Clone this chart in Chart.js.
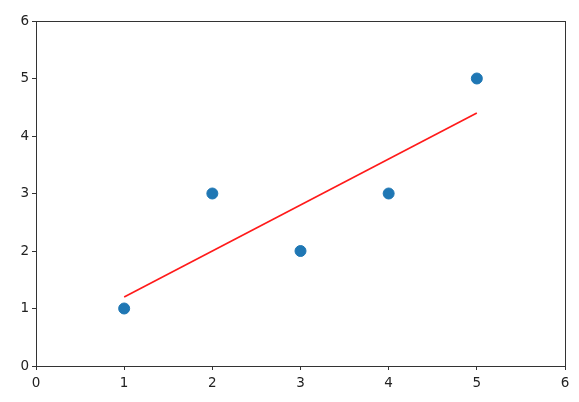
<!DOCTYPE html>
<html>
<head>
<meta charset="utf-8">
<script src="https://cdn.jsdelivr.net/npm/chart.js@4"></script>
<style>
    html, body { margin: 0; padding: 0; background: #fff; }
    #chart { display: block; }
</style>
</head>
<body>
<canvas id="chart" width="579" height="402"></canvas>
<script>
// Scatter points
const pointX = [1, 2, 3, 4, 5];
const pointY = [1, 3, 2, 3, 5];

// Fitted line
const lineX = [1, 5];
const lineY = [1.2, 4.4];

// Axis ticks
const xTicks = [0, 1, 2, 3, 4, 5, 6];
const yTicks = [0, 1, 2, 3, 4, 5, 6];

const axisColor = '#333333';

// Draw the full box around the plot area
const frameBox = {
    id: 'frameBox',
    afterDraw(chart) {
        const a = chart.chartArea;
        const ctx = chart.ctx;
        ctx.save();
        ctx.strokeStyle = axisColor;
        ctx.lineWidth = 1;
        ctx.strokeRect(Math.round(a.left) + 0.5, Math.round(a.top) + 0.5,
            Math.round(a.right - a.left), Math.round(a.bottom - a.top));
        ctx.restore();
    }
};

function scaleOpts(ticks, fitKey, pad) {
    return {
        type: 'linear',
        min: ticks[0],
        max: ticks[ticks.length - 1],
        afterBuildTicks: function(scale) {
            scale.ticks = ticks.map(v => ({ value: v }));
        },
        afterFit: function(scale) {
            scale[fitKey] = 36;
        },
        border: { display: false },
        grid: {
            drawOnChartArea: false,
            drawTicks: true,
            tickLength: 4,
            color: axisColor,
            lineWidth: 1
        },
        ticks: {
            color: '#222',
            padding: pad,
            font: { family: 'DejaVu Sans', size: 13.5 },
            callback: v => String(v)
        }
    };
}

new Chart(document.getElementById('chart'), {
    type: 'scatter',
    data: {
        datasets: [
            {
                type: 'line',
                data: lineX.map((x, i) => ({ x: x, y: lineY[i] })),
                borderColor: '#ff1a1a',
                borderWidth: 1.6,
                pointRadius: 0,
                fill: false,
                order: 1
            },
            {
                data: pointX.map((x, i) => ({ x: x, y: pointY[i] })),
                backgroundColor: '#1f77b4',
                borderColor: '#1f77b4',
                pointRadius: 5.5,
                pointHoverRadius: 5.5,
                order: 0
            }
        ]
    },
    options: {
        responsive: false,
        animation: false,
        layout: { padding: { left: 0, top: 21, right: 14, bottom: 0 } },
        plugins: {
            legend: { display: false },
            tooltip: { enabled: false }
        },
        scales: {
            x: scaleOpts(xTicks, 'height', 5),
            y: scaleOpts(yTicks, 'width', 3)
        }
    },
    plugins: [frameBox]
});
</script>
</body>
</html>
